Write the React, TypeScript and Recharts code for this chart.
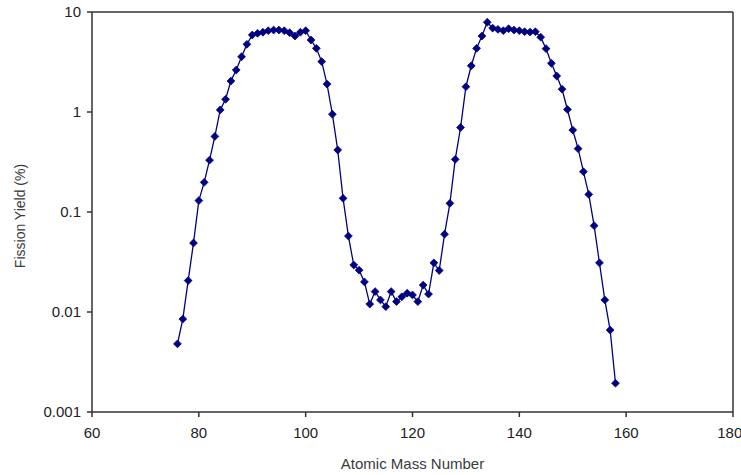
import { LineChart, Line, XAxis, YAxis, ReferenceLine } from "recharts"

const massNumbers = [
  76, 77, 78, 79, 80, 81, 82, 83, 84, 85, 86, 87, 88, 89, 90, 91, 92, 93, 94, 95,
  96, 97, 98, 99, 100, 101, 102, 103, 104, 105, 106, 107, 108, 109, 110, 111, 112,
  113, 114, 115, 116, 117, 118, 119, 120, 121, 122, 123, 124, 125, 126, 127, 128,
  129, 130, 131, 132, 133, 134, 135, 136, 137, 138, 139, 140, 141, 142, 143, 144,
  145, 146, 147, 148, 149, 150, 151, 152, 153, 154, 155, 156, 157, 158,
]

// fission yield in %
const fissionYield = [
  0.0048, 0.0085, 0.0206, 0.049, 0.13, 0.198, 0.33, 0.57, 1.05, 1.34, 2.04, 2.63,
  3.57, 4.75, 5.89, 6.12, 6.27, 6.5, 6.6, 6.6, 6.5, 6.2, 5.75, 6.27, 6.5, 5.25,
  4.33, 3.19, 1.9, 0.95, 0.417, 0.137, 0.0575, 0.0295, 0.0262, 0.02, 0.012, 0.016,
  0.0132, 0.0113, 0.016, 0.0127, 0.0142, 0.0154, 0.0148, 0.0127, 0.0186, 0.0151,
  0.031, 0.026, 0.06, 0.122, 0.336, 0.7, 1.79, 2.9, 4.33, 5.75, 7.9, 6.9, 6.7, 6.5,
  6.8, 6.6, 6.5, 6.35, 6.3, 6.35, 5.6, 4.3, 3.07, 2.29, 1.69, 1.06, 0.66, 0.43,
  0.253, 0.15, 0.073, 0.031, 0.0132, 0.0066, 0.00194,
]

const xTicks = [60, 80, 100, 120, 140, 160, 180]
const yTicks = [0.001, 0.01, 0.1, 1, 10]

const data = massNumbers.map((a, i) => ({ mass: a, yield: fissionYield[i] }))

const navy = "#000080"
const axisColor = "#333"
const font = "'Liberation Sans', Arial, sans-serif"

function Diamond(props: { cx?: number; cy?: number; index?: number }) {
  const { cx, cy } = props
  if (cx == null || cy == null) return null
  const r = 3.9
  return (
    <path
      key={props.index}
      d={`M${cx},${cy - r} L${cx + r},${cy} L${cx},${cy + r} L${cx - r},${cy} Z`}
      fill={navy}
      stroke={navy}
      strokeWidth={0.8}
    />
  )
}

function YTitle(props: any) {
  const vb = props.viewBox
  const x = vb.x + 20
  const y = vb.y + vb.height / 2 + 4
  return (
    <text
      x={x}
      y={y}
      transform={`rotate(-90, ${x}, ${y})`}
      textAnchor="middle"
      dominantBaseline="central"
      fontSize={14}
      fontFamily={font}
      fill="#3a3a3a"
    >
      Fission Yield (%)
    </text>
  )
}

export default function App() {
  return (
    <div style={{ position: "absolute", left: 0, top: 0, background: "#fff" }}>
      <LineChart
        width={741}
        height={475}
        data={data}
        margin={{ top: 12, right: 8, left: 0, bottom: 0 }}
      >
        <XAxis
          dataKey="mass"
          type="number"
          domain={[60, 180]}
          ticks={xTicks}
          height={63}
          stroke={axisColor}
          strokeWidth={1.5}
          tickSize={5}
          tickMargin={10}
          tick={{ fontSize: 15, fill: "#222", fontFamily: font }}
          label={{
            value: "Atomic Mass Number",
            position: "insideBottom",
            offset: 6,
            fontSize: 15,
            fill: "#3a3a3a",
            fontFamily: font,
          }}
        />
        <YAxis
          type="number"
          scale="log"
          domain={[0.001, 10]}
          ticks={yTicks}
          allowDataOverflow
          width={92}
          stroke={axisColor}
          strokeWidth={1.5}
          tickSize={5}
          tickMargin={6}
          tickFormatter={(v: number) => String(v)}
          tick={{ fontSize: 15, fill: "#222", fontFamily: font }}
          label={<YTitle />}
        />
        <ReferenceLine y={10} stroke={axisColor} strokeWidth={1.5} />
        <ReferenceLine x={180} stroke={axisColor} strokeWidth={1.5} />
        <Line
          type="linear"
          dataKey="yield"
          stroke={navy}
          strokeWidth={1.3}
          dot={<Diamond />}
          isAnimationActive={false}
        />
      </LineChart>
    </div>
  )
}
